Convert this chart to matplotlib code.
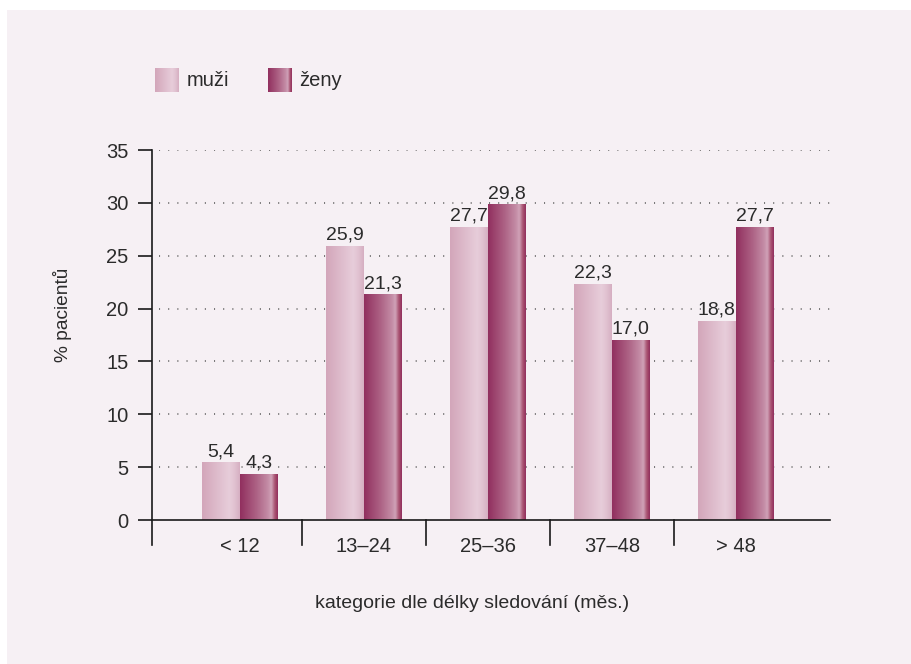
import numpy as np
import matplotlib
matplotlib.use("Agg")
import matplotlib.pyplot as plt
from matplotlib.colors import to_rgb
from matplotlib.patches import Rectangle

categories = ["< 12", "13\u201324", "25\u201336", "37\u201348", "> 48"]
muzi = [5.4, 25.9, 27.7, 22.3, 18.8]
zeny = [4.3, 21.3, 29.8, 17.0, 27.7]
series_names = ["muži", "ženy"]
yticks = [0, 5, 10, 15, 20, 25, 30, 35]

BG = "#F6F0F4"
TXT = "#2b2b2b"
plt.rcParams['font.family'] = ['Liberation Sans', 'DejaVu Sans']

stops_m = [(0.0, "#D3A6BA"), (0.72, "#E7CDDA"), (0.86, "#E1C2D1"), (1.0, "#D6AFC2")]
stops_z = [(0.0, "#91305F"), (0.45, "#AE6486"), (0.74, "#C48CA6"), (0.83, "#D0A2B8"), (0.93, "#A8506F"), (1.0, "#93325F")]

def grad(stops, n=64):
    xs = np.linspace(0, 1, n)
    pos = [s[0] for s in stops]
    cols = np.array([to_rgb(s[1]) for s in stops])
    arr = np.stack([np.interp(xs, pos, cols[:, i]) for i in range(3)], axis=-1)
    return arr[np.newaxis, :, :]

gm = grad(stops_m)
gz = grad(stops_z)

W, H = 911, 664
fig = plt.figure(figsize=(W / 100, H / 100), dpi=100, facecolor="white")
fig.patches.append(Rectangle((7 / W, 0), 1 - 7 / W, 1 - 10 / H, transform=fig.transFigure,
                             facecolor=BG, edgecolor="none", zorder=-10))

ax_l, ax_r, ax_t, ax_b = 152, 830, 150, 520
ax = fig.add_axes([ax_l / W, (H - ax_b) / H, (ax_r - ax_l) / W, (ax_b - ax_t) / H])
ax.set_facecolor("none")
for s in ax.spines.values():
    s.set_visible(False)

xmin, xmax = -0.71, 4.76
ymin, ymax = 0, 35
bw = 0.306
x = np.arange(len(categories))

# grid
for yv in yticks[1:]:
    ax.plot([xmin + 0.06, xmax], [yv, yv], color="#555555", lw=1.1, ls=(0, (0.7, 5.3)), zorder=1)

for i in range(len(categories)):
    for vals, g, off in ((muzi, gm, -bw / 2), (zeny, gz, bw / 2)):
        x0 = x[i] + off - bw / 2
        ax.imshow(g, extent=[x0, x0 + bw, 0, vals[i]], aspect="auto", zorder=2, interpolation="bilinear")
        ax.text(x[i] + off, vals[i] + 0.25, f"{vals[i]:.1f}".replace(".", ","), ha="center", va="bottom",
                fontsize=14, color=TXT, zorder=3)

ax.set_xlim(xmin, xmax)
ax.set_ylim(ymin, ymax)

# axes lines
ax.plot([xmin, xmin], [-2.4, ymax], color="#1a1a1a", lw=1.2, clip_on=False, zorder=4)
ax.plot([xmin, xmax], [0, 0], color="#1a1a1a", lw=1.2, clip_on=False, zorder=4)
for b in [0.5, 1.5, 2.5, 3.5]:
    ax.plot([b, b], [0, -2.4], color="#1a1a1a", lw=1.2, clip_on=False, zorder=4)

ax.set_yticks(yticks)
ax.set_yticklabels([str(v) for v in yticks], fontsize=14.5, color=TXT)
ax.tick_params(axis="y", length=10, width=1.2, color="#1a1a1a", pad=7)
ax.set_xticks(x)
ax.set_xticklabels(categories, fontsize=14.5, color=TXT)
ax.tick_params(axis="x", length=0, pad=12)

fig.text(63 / W, (H - 315) / H, "% pacientů", fontsize=13.8, color=TXT, rotation=90,
         ha="center", va="center")
fig.text(472 / W, (H - 604) / H, "kategorie dle délky sledování (měs.)", fontsize=14,
         color=TXT, ha="center", va="center")

# legend
for gx, g, name, tx in ((155, gm, series_names[0], 187), (268, gz, series_names[1], 299)):
    la = fig.add_axes([gx / W, (H - 92) / H, 24 / W, 24 / H])
    la.imshow(g, aspect="auto", extent=[0, 1, 0, 1], interpolation="bilinear")
    la.axis("off")
    fig.text(tx / W, (H - 80) / H, name, fontsize=14.5, color=TXT, va="center", ha="left")

fig.savefig("out.png", dpi=100, facecolor="white")
